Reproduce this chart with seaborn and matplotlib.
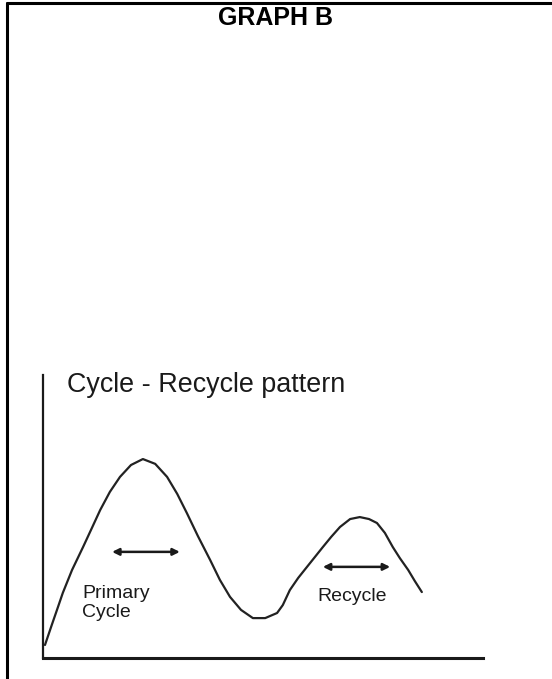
import matplotlib
matplotlib.use("Agg")
import matplotlib.pyplot as plt
from matplotlib.lines import Line2D
import seaborn as sns
import pandas as pd

# curve (x, y on a 0-100 scale)
curve_x = [0.45, 2.0, 3.4, 4.5, 6.6, 9.1, 11.1, 13.0, 15.2, 17.5, 20.0,
           22.7, 25.5, 28.2, 30.5, 32.7, 35.2, 38.0, 40.2, 42.5, 45.0,
           47.7, 50.5, 53.2, 54.5, 56.1, 58.0, 60.0, 61.8, 63.6, 65.5,
           67.5, 69.8, 72.0, 74.1, 75.9, 77.7, 79.5, 81.1, 83.0, 84.5, 86.1]
curve_y = [4.6, 11.7, 18.0, 23.0, 31.1, 39.2, 45.9, 52.3, 58.7, 64.0, 68.2,
           70.3, 68.6, 64.0, 58.0, 51.2, 43.1, 34.6, 27.6, 21.6, 17.0,
           14.1, 14.1, 15.9, 18.7, 24.0, 28.3, 32.2, 35.7, 39.2, 42.8,
           46.3, 49.1, 49.8, 49.1, 47.7, 44.2, 39.2, 35.3, 31.1, 27.2, 23.3]

title = "GRAPH B"
subtitle = "Cycle - Recycle pattern"
primary_label = "Primary\nCycle"
recycle_label = "Recycle"

# arrow spans (start x, end x, y)
primary_span = (15.7, 31.1, 37.5)
recycle_span = (63.6, 78.9, 32.2)

sns.set_style("white")
plt.rcParams['font.family'] = ['Liberation Sans', 'DejaVu Sans']

W, H = 552, 679
fig = plt.figure(figsize=(W / 100, H / 100), dpi=100)
ax = fig.add_axes([43 / W, 1 - 658 / H, 440 / W, 283 / H])

df = pd.DataFrame({'x': curve_x, 'y': curve_y})
sns.lineplot(data=df, x='x', y='y', ax=ax, color='#222222', lw=1.6, sort=False,
             solid_joinstyle='round', solid_capstyle='round')

ax.set_xlim(0, 100)
ax.set_ylim(0, 100)
ax.set_xticks([])
ax.set_yticks([])
ax.set_xlabel('')
ax.set_ylabel('')
for s in ['top', 'right']:
    ax.spines[s].set_visible(False)
ax.spines['left'].set_linewidth(1.6)
ax.spines['bottom'].set_linewidth(2.2)
ax.spines['left'].set_color('#1a1a1a')
ax.spines['bottom'].set_color('#1a1a1a')

ax.text(5.5, 96.5, subtitle, fontsize=19.4, va='center', ha='left', color='#1a1a1a')
ax.text(8.9, 19.4, primary_label, fontsize=14, va='center', ha='left',
        color='#1a1a1a', linespacing=1.2)
ax.text(70.2, 21.6, recycle_label, fontsize=14, va='center', ha='center', color='#1a1a1a')

for x0, x1, yy in [primary_span, recycle_span]:
    ax.annotate('', xy=(x1, yy), xytext=(x0, yy),
                arrowprops=dict(arrowstyle='<|-|>', color='#1a1a1a', lw=1.8,
                                mutation_scale=10, shrinkA=0, shrinkB=0))

fig.text(0.5, 1 - 18 / H, title, fontsize=18, fontweight='bold', ha='center',
         va='center', color='black')

# page border (left and top edges)
fig.add_artist(Line2D([7 / W, 7 / W], [0, 1 - 3 / H], transform=fig.transFigure,
                      color='black', lw=2.2))
fig.add_artist(Line2D([7 / W, 1], [1 - 3 / H, 1 - 3 / H], transform=fig.transFigure,
                      color='black', lw=2.2))

fig.savefig('out.png', dpi=100)
